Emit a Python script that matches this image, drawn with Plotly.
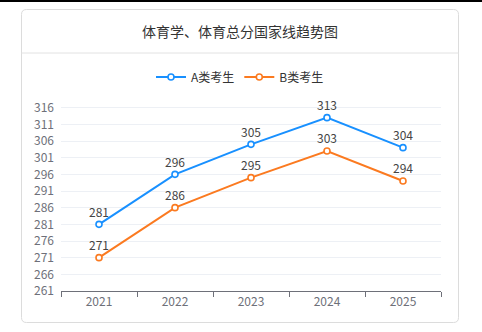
import plotly.graph_objects as go

years = ["2021", "2022", "2023", "2024", "2025"]
score_a = [281, 296, 305, 313, 304]
score_b = [271, 286, 295, 303, 294]
series_names = ["A类考生", "B类考生"]
series_colors = ["#1890ff", "#fb7a20"]
title_text = "体育学、体育总分国家线趋势图"

W, H = 482, 332
ML, MR, MT, MB = 61, 41, 101, 41
PW, PH = W - ML - MR, H - MT - MB


def px_x(x):
    return (x - ML) / PW


def px_y(y):
    return (H - MB - y) / PH


fig = go.Figure()
for name, vals, color in zip(series_names, [score_a, score_b], series_colors):
    fig.add_trace(go.Scatter(
        x=years, y=vals, name=name, mode="lines+markers+text",
        line=dict(color=color, width=2),
        marker=dict(symbol="circle", size=6, color="white",
                    line=dict(color=color, width=1.6)),
        text=[str(v) for v in vals], textposition="top center",
        textfont=dict(size=12, color="#444"),
        cliponaxis=False,
    ))

# card outline with rounded corners
x0, x1, y0, y1 = px_x(21.5), px_x(458.5), px_y(9.5), px_y(322.5)
rx, ry = 5 / PW, 5 / PH
card = (f"M {x0+rx},{y0} L {x1-rx},{y0} Q {x1},{y0} {x1},{y0-ry} "
        f"L {x1},{y1+ry} Q {x1},{y1} {x1-rx},{y1} L {x0+rx},{y1} "
        f"Q {x0},{y1} {x0},{y1+ry} L {x0},{y0-ry} Q {x0},{y0} {x0+rx},{y0} Z")

shapes = [
    dict(type="rect", xref="paper", yref="paper", x0=px_x(0), x1=px_x(W),
         y0=px_y(0), y1=px_y(2), fillcolor="#000", line=dict(width=0), layer="below"),
    dict(type="path", xref="paper", yref="paper", path=card,
         line=dict(color="#dcdcdc", width=1), layer="below"),
    dict(type="line", xref="paper", yref="paper", x0=px_x(21.5), x1=px_x(458.5),
         y0=px_y(53), y1=px_y(53), line=dict(color="#e2e2e2", width=1), layer="below"),
]

fig.update_layout(
    width=W, height=H,
    margin=dict(l=ML, r=MR, t=MT, b=MB, pad=0),
    paper_bgcolor="white", plot_bgcolor="white",
    font=dict(family="Noto Sans CJK SC, Noto Sans, sans-serif", color="#333"),
    shapes=shapes,
    annotations=[dict(text=title_text, xref="paper", yref="paper",
                      x=px_x(240), y=px_y(31), showarrow=False,
                      font=dict(size=14, color="#333"),
                      xanchor="center", yanchor="middle")],
    showlegend=True,
    legend=dict(orientation="h", x=px_x(240), y=px_y(77), xanchor="center",
                yanchor="middle", font=dict(size=12, color="#333"),
                itemwidth=30, bgcolor="rgba(0,0,0,0)", tracegroupgap=0),
    xaxis=dict(type="category", range=[-0.5, 4.5], tickson="boundaries",
               ticks="outside", ticklen=5, tickcolor="#6e7079",
               showline=True, linecolor="#6e7079", linewidth=1,
               showgrid=False, tickfont=dict(size=12, color="#6e7079"),
               fixedrange=True),
    yaxis=dict(range=[261, 318], tickmode="array",
               tickvals=list(range(261, 317, 5)) + [318],
               ticktext=[str(v) for v in range(261, 317, 5)] + [""],
               showgrid=True, gridcolor="#edf0f5", gridwidth=1,
               zeroline=False, showline=False, ticks="",
               tickfont=dict(size=12, color="#6e7079"), ticklabelstandoff=6,
               fixedrange=True),
)

fig.write_html("out.html")
